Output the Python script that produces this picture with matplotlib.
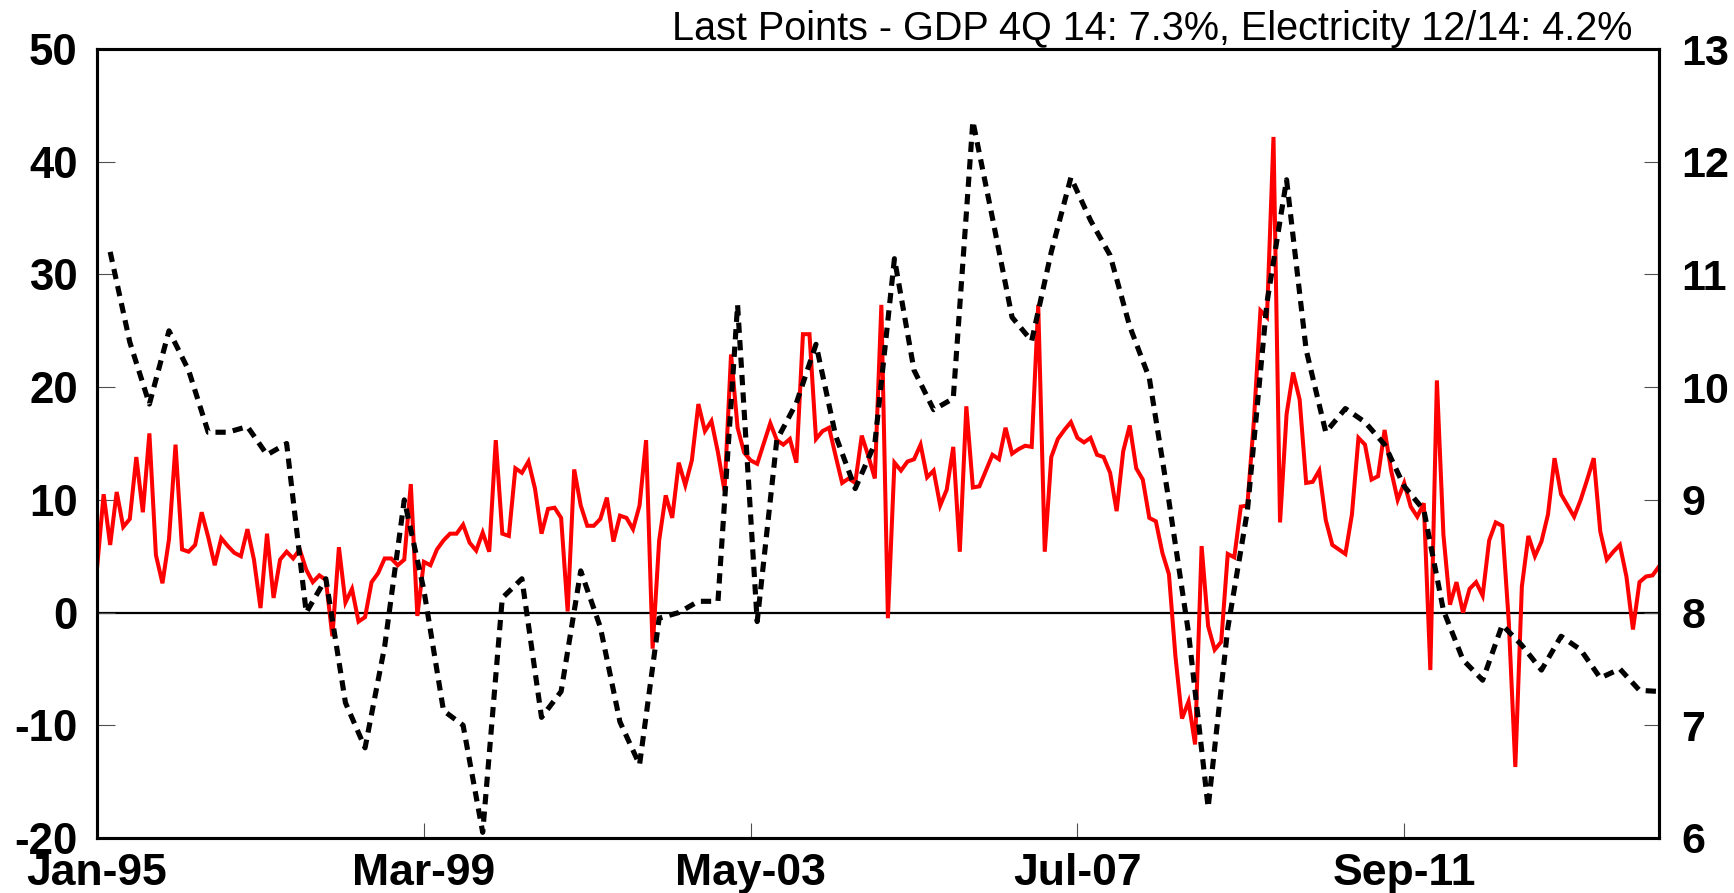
import numpy as np
import pandas as pd
import matplotlib
matplotlib.use('Agg')
import matplotlib.pyplot as plt

plt.rcParams['font.family'] = ['Liberation Sans', 'DejaVu Sans']
plt.rcParams['font.weight'] = 'bold'
plt.rcParams['axes.unicode_minus'] = False

# electricity output, % y/y, monthly from Jan-95 to Dec-14 (left axis)
electricity = [
    4.0, 10.5, 6.0, 10.7, 7.6, 8.3, 13.8, 8.9, 15.9, 5.1, 2.6, 6.5,
    14.9, 5.6, 5.4, 6.0, 8.9, 6.7, 4.2, 6.6, 5.9, 5.3, 5.0, 7.4,
    4.7, 0.4, 7.0, 1.3, 4.7, 5.4, 4.8, 5.6, 3.8, 2.7, 3.3, 2.9,
    -2.1, 5.8, 0.9, 2.1, -0.8, -0.4, 2.7, 3.5, 4.8, 4.8, 4.2, 4.7,
    11.4, -0.3, 4.5, 4.2, 5.6, 6.4, 7.0, 7.0, 7.8, 6.2, 5.5, 7.1,
    5.4, 15.3, 7.0, 6.8, 12.8, 12.4, 13.4, 11.0, 7.0, 9.2, 9.3, 8.4,
    0.1, 12.7, 9.5, 7.7, 7.7, 8.3, 10.2, 6.3, 8.6, 8.4, 7.4, 9.5,
    15.3, -3.2, 6.4, 10.4, 8.4, 13.3, 11.3, 13.5, 18.5, 16.1, 17.0, 14.2,
    10.8, 22.9, 16.4, 14.2, 13.5, 13.2, 15.0, 16.8, 15.3, 14.9, 15.4, 13.3,
    24.7, 24.7, 15.4, 16.1, 16.4, 13.9, 11.5, 11.9, 11.5, 15.7, 13.9, 11.9,
    27.3, -0.5, 13.3, 12.6, 13.4, 13.6, 14.9, 12.0, 12.6, 9.5, 10.9, 14.7,
    5.4, 18.3, 11.1, 11.2, 12.6, 14.0, 13.6, 16.4, 14.1, 14.5, 14.8, 14.7,
    27.3, 5.4, 13.8, 15.4, 16.2, 16.9, 15.5, 15.1, 15.5, 14.0, 13.8, 12.4,
    9.0, 14.3, 16.6, 12.8, 11.8, 8.4, 8.1, 5.3, 3.4, -3.9, -9.4, -7.9,
    -11.7, 5.9, -1.2, -3.3, -2.6, 5.2, 4.9, 9.4, 9.5, 17.0, 26.8, 26.2,
    42.2, 8.0, 17.6, 21.3, 18.9, 11.5, 11.6, 12.6, 8.2, 6.0, 5.6, 5.2,
    8.7, 15.5, 14.9, 11.8, 12.1, 16.2, 12.6, 10.0, 11.5, 9.4, 8.5, 9.7,
    -5.1, 20.6, 6.9, 0.7, 2.7, 0.0, 2.1, 2.7, 1.5, 6.4, 8.0, 7.7,
    -0.8, -13.7, 2.3, 6.8, 5.0, 6.3, 8.7, 13.7, 10.5, 9.5, 8.5, 10.0,
    11.8, 13.7, 7.2, 4.7, 5.4, 6.0, 3.2, -1.5, 2.7, 3.2, 3.3, 4.1,
]

# real GDP, % y/y, quarterly 1Q95 to 4Q14, shown at quarter-end month (right axis)
gdp = [
    11.2, 10.4, 9.85, 10.5, 10.15, 9.6, 9.6, 9.65, 9.4, 9.5,
    8.0, 8.3, 7.2, 6.8, 7.7, 9.0, 8.2, 7.13, 7.0, 6.05,
    8.13, 8.3, 7.07, 7.3, 8.37, 7.87, 7.03, 6.65, 7.95, 8.0,
    8.1, 8.1, 10.73, 7.92, 9.53, 9.86, 10.38, 9.57, 9.1, 9.5,
    11.14, 10.15, 9.8, 9.9, 12.36, 11.5, 10.62, 10.41, 11.2, 11.86,
    11.48, 11.17, 10.54, 10.08, 8.99, 7.82, 6.27, 7.86, 8.9, 10.75,
    11.84, 10.33, 9.6, 9.81, 9.69, 9.49, 9.12, 8.91, 8.02, 7.58,
    7.4, 7.89, 7.71, 7.49, 7.79, 7.67, 7.42, 7.5, 7.31, 7.3,
]

first_month = '1995-01'
label_step = 50
title = 'Last Points - GDP 4Q 14: 7.3%, Electricity 12/14: 4.2%'

months = pd.date_range(first_month, periods=len(electricity), freq='MS')
x_elec = np.arange(len(electricity))
x_gdp = np.arange(2, len(electricity), 3)

fig = plt.figure(figsize=(17.34, 8.93), dpi=100)
ax = fig.add_axes([0.056, 0.0616, 0.9008, 0.8835])
ax2 = ax.twinx()

ax.axhline(0, color='black', lw=1.6, zorder=1)
ax.plot(x_elec, electricity, color='#ff0000', lw=2.9, solid_joinstyle='miter')
ax2.plot(x_gdp, gdp, color='black', lw=3.7, dashes=(2.0, 1.4))

ax.set_xlim(x_elec[0], x_elec[-1])
ax.set_ylim(-20, 50)
ax2.set_ylim(6, 13)
ax.set_yticks(range(-20, 51, 10))
ax2.set_yticks(range(6, 14))
ax.set_xticks(x_elec[::label_step])
ax.set_xticklabels(months[::label_step].strftime('%b-%y'))

ax.tick_params(axis='y', direction='in', length=13, width=0.8, color='#505050',
               labelsize=31.5, pad=14)
ax.tick_params(axis='x', direction='in', length=11, width=0.8, color='#505050',
               labelsize=32, pad=11)
ax2.tick_params(axis='y', direction='in', length=11, width=0.8, color='#505050',
                labelsize=31, pad=16)

for a in (ax, ax2):
    for s in a.spines.values():
        s.set_linewidth(2.2)
        s.set_color('black')

ax.text(0.983, 1.011, title, transform=ax.transAxes, ha='right', va='baseline',
        fontsize=28.5, fontweight='normal')

fig.savefig('out.png', dpi=100)
